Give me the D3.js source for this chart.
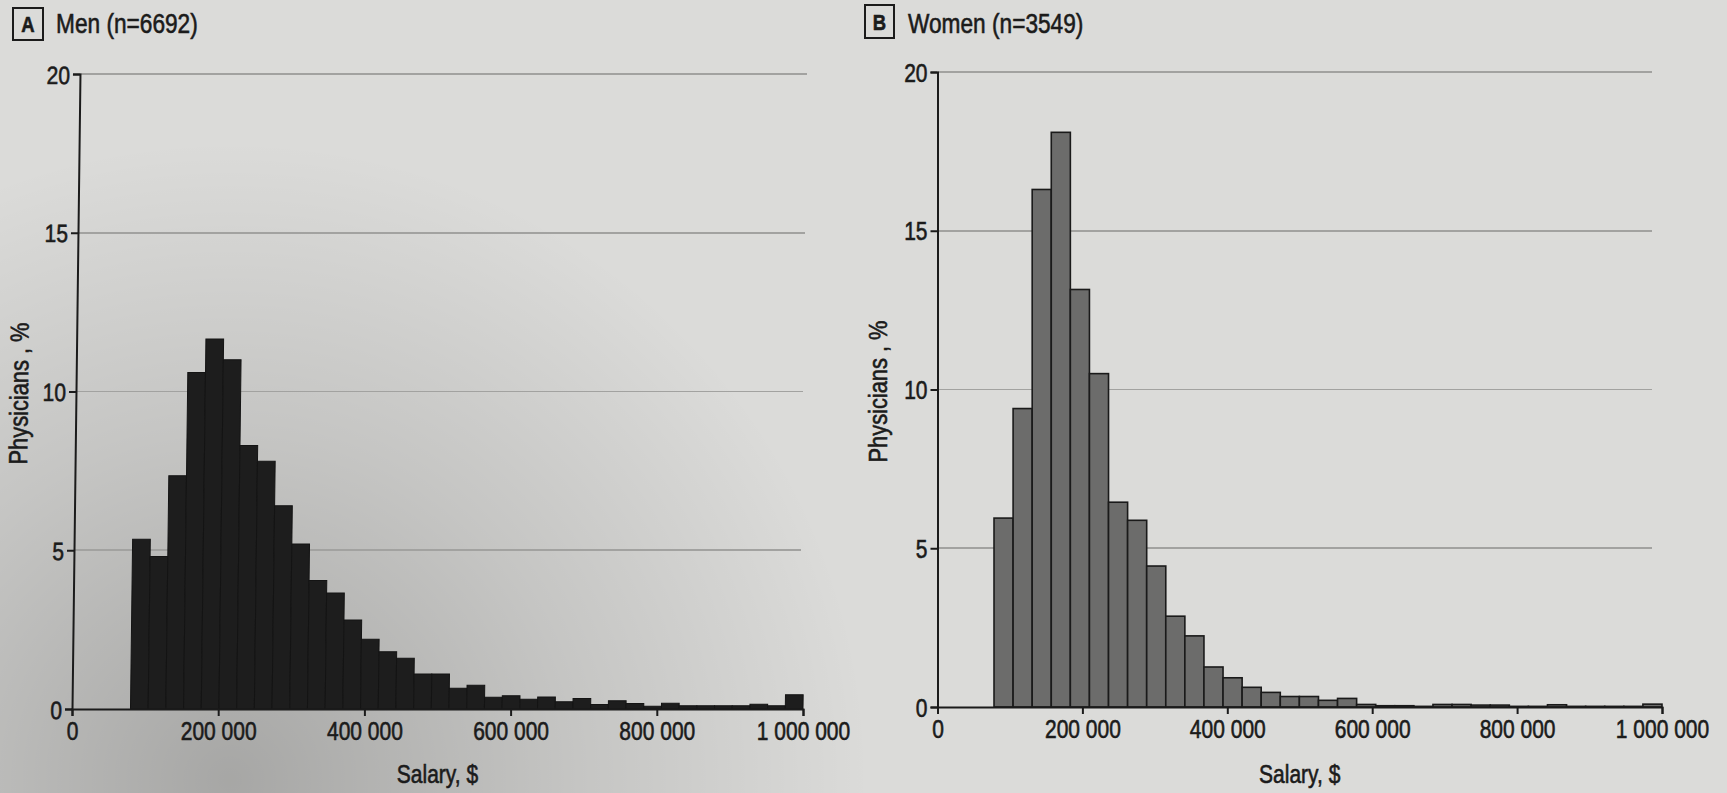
<!DOCTYPE html>
<html lang="en">
<head>
<meta charset="UTF-8">
<title>Physician salary histograms</title>
<script src="https://cdn.jsdelivr.net/npm/d3@7"></script>
<style>
  html, body { margin: 0; padding: 0; overflow: hidden; background: #d5d5d3; }
  svg text {
    font-family: "Liberation Sans", Arial, sans-serif;
    fill: #1b1b1b;
    stroke: #1b1b1b;
    stroke-width: 0.6px;
  }
  .grid line { shape-rendering: crispEdges; }
</style>
</head>
<body>
<script>
// data
const salaryTicks = [0, 200000, 400000, 600000, 800000, 1000000]
const pctTicks = [0, 5, 10, 15, 20]

// men: 38 bins between these salaries, % of physicians per bin
const menRange = [80000, 1000000]
const menPct = [5.35, 4.8, 7.35, 10.6, 11.65, 11.0, 8.3, 7.8, 6.4, 5.2,
  4.05, 3.65, 2.8, 2.2, 1.8, 1.6, 1.1, 1.1, 0.65, 0.75,
  0.37, 0.42, 0.31, 0.38, 0.23, 0.33, 0.14, 0.26, 0.17, 0.09,
  0.18, 0.1, 0.1, 0.1, 0.1, 0.15, 0.1, 0.45]

// women: 35 bins
const womenRange = [78000, 1000000]
const womenPct = [5.95, 9.4, 16.3, 18.1, 13.15, 10.5, 6.45, 5.88, 4.44, 2.86,
  2.24, 1.26, 0.92, 0.62, 0.46, 0.33, 0.33, 0.21, 0.27, 0.08,
  0.04, 0.04, 0.02, 0.08, 0.08, 0.06, 0.06, 0.02, 0.02, 0.07,
  0.02, 0.02, 0.02, 0.02, 0.09]

const width = 1727
const height = 793
const narrow = 0.84   // squeeze text to look like the condensed print face

const svg = d3.select('body').append('svg')
  .attr('width', width)
  .attr('height', height)

// paper photo look: darker shadow lower left
const defs = svg.append('defs')
const shade = defs.append('radialGradient')
  .attr('id', 'shade')
  .attr('gradientUnits', 'userSpaceOnUse')
  .attr('cx', 230).attr('cy', 780).attr('r', 640)
shade.append('stop').attr('offset', 0).attr('stop-color', '#000').attr('stop-opacity', 0.24)
shade.append('stop').attr('offset', 0.55).attr('stop-color', '#000').attr('stop-opacity', 0.1)
shade.append('stop').attr('offset', 1).attr('stop-color', '#000').attr('stop-opacity', 0)

svg.append('rect').attr('width', width).attr('height', height).attr('fill', '#dbdbd9')
svg.append('rect').attr('width', width).attr('height', height).attr('fill', 'url(#shade)')

const fmt = (d) => d3.format(',')(d).replace(/,/g, ' ')

function label(g, x, y, txt, size, rot) {
  return g.append('text')
    .attr('transform', `translate(${x},${y})${rot ? ' rotate(' + rot + ')' : ''} scale(${narrow},1)`)
    .style('font-size', size + 'px')
    .text(txt)
}

function panel(o) {
  const x = d3.scaleLinear().domain([0, 1000000]).range(o.xr)
  const y = d3.scaleLinear().domain([0, 20]).range(o.yr)
  const base = y(0)
  // the photo is slightly slanted: lean the plot around the baseline
  const g = svg.append('g')
    .attr('transform', `translate(0,${base}) skewX(${o.lean}) translate(0,${-base})`)

  // gridlines
  g.append('g').attr('class', 'grid')
    .selectAll('line')
    .data(pctTicks.filter((d) => d > 0))
    .enter().append('line')
    .attr('x1', x(0)).attr('x2', x(1000000) - o.gridCut)
    .attr('y1', (d) => y(d)).attr('y2', (d) => y(d))
    .attr('stroke', '#a2a2a0')
    .attr('stroke-width', 1.6)

  // bins
  const n = o.pct.length
  const bw = (o.range[1] - o.range[0]) / n
  g.selectAll('.bar')
    .data(o.pct)
    .enter().append('rect')
    .attr('class', 'bar')
    .attr('x', (d, i) => x(o.range[0] + i * bw))
    .attr('width', (d, i) => x(o.range[0] + (i + 1) * bw) - x(o.range[0] + i * bw))
    .attr('y', (d) => y(d))
    .attr('height', (d) => y(0) - y(d))
    .attr('fill', o.fill)
    .attr('stroke', o.stroke)
    .attr('stroke-width', o.sw)

  const yAxis = g.append('g')
    .attr('transform', `translate(${x(0)},0)`)
    .call(d3.axisLeft(y).tickValues(pctTicks).tickSize(7).tickPadding(3))
  const xAxis = svg.append('g')
    .attr('transform', `translate(0,${base})`)
    .call(d3.axisBottom(x).tickValues(salaryTicks).tickFormat(fmt).tickSize(7).tickPadding(4))

  for (const ax of [yAxis, xAxis]) {
    ax.select('.domain').attr('stroke', '#1b1b1b').attr('stroke-width', 2)
    ax.selectAll('.tick line').attr('stroke', '#1b1b1b').attr('stroke-width', 2)
    ax.selectAll('.tick text')
      .attr('fill', '#1b1b1b')
      .attr('font-family', null).attr('font-size', null)
      .style('font-size', '25px')
  }
  yAxis.selectAll('.tick text')
    .attr('x', -10 / narrow)
    .attr('dy', '0.36em')
    .attr('transform', `scale(${narrow},1)`)
  xAxis.selectAll('.tick text')
    .attr('dy', '0.8em')
    .attr('transform', `scale(${narrow},1)`)

  // axis titles
  label(g, o.ylabX, (y(0) + y(20)) / 2 + 2, 'Physicians , %', 26, -90)
    .attr('text-anchor', 'middle')
  label(svg, (x(0) + x(1000000)) / 2, 783, 'Salary, $', 25)
    .attr('text-anchor', 'middle')

  // panel letter box and title
  svg.append('rect')
    .attr('x', o.box[0]).attr('y', o.box[1])
    .attr('width', o.box[2]).attr('height', o.box[3])
    .attr('fill', 'none').attr('stroke', '#1b1b1b').attr('stroke-width', 2)
  label(svg, o.box[0] + o.box[2] / 2, o.box[1] + o.box[3] / 2 + 8, o.letter, 22)
    .attr('text-anchor', 'middle')
    .style('font-weight', 'bold')
  label(svg, o.titleX, 33, o.title, 27)
}

panel({
  xr: [72, 803], yr: [709, 74], lean: -0.72, gridCut: 4,
  range: menRange, pct: menPct,
  fill: '#1d1d1d', stroke: '#141414', sw: 1,
  ylabX: 24, box: [13, 8, 30, 32], letter: 'A',
  titleX: 56, title: 'Men (n=6692)'
})

panel({
  xr: [937.5, 1662], yr: [707, 72], lean: 0, gridCut: 10,
  range: womenRange, pct: womenPct,
  fill: '#6c6c6b', stroke: '#1a1a1a', sw: 1.6,
  ylabX: 887, box: [865, 5, 29, 33], letter: 'B',
  titleX: 908, title: 'Women (n=3549)'
})
</script>
</body>
</html>
